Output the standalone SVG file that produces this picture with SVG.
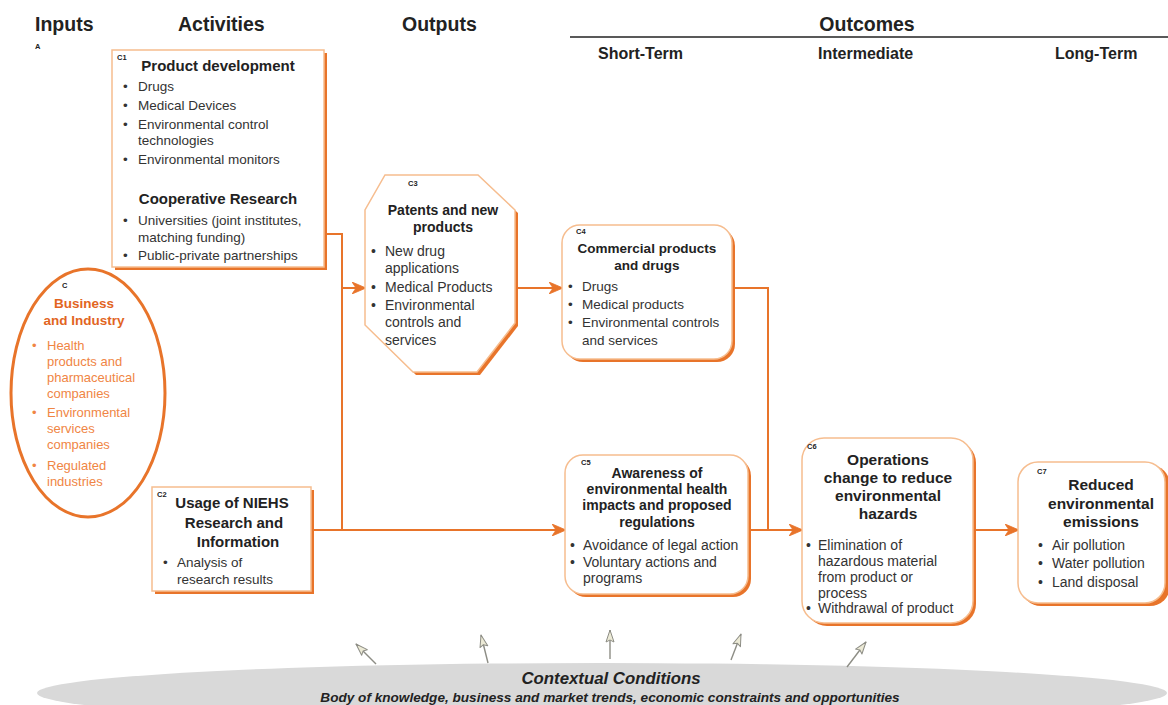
<svg xmlns="http://www.w3.org/2000/svg" width="1168" height="705" viewBox="0 0 1168 705">
<defs>
<marker id="ao" viewBox="0 0 14 12" refX="13" refY="6" markerWidth="14" markerHeight="12" markerUnits="userSpaceOnUse" orient="auto">
<path d="M0,0 L14,6 L0,12 L4,6 Z" fill="#e8742a" stroke="#e8742a" stroke-width="0.8" stroke-linejoin="round"/>
</marker>
<marker id="ag" viewBox="0 0 14 10" refX="13" refY="5" markerWidth="14" markerHeight="10" markerUnits="userSpaceOnUse" orient="auto">
<path d="M13,5 L1,1 L3,5 L1,9 Z" fill="#ecead6" stroke="#8d8d85" stroke-width="1" stroke-linejoin="round"/>
</marker>
<style>
text{font-family:"Liberation Sans",Arial,sans-serif;fill:#222}
.h{font-size:19.5px;font-weight:bold}
.s{font-size:16px;font-weight:bold}
.l{font-size:7.5px;font-weight:bold}
.t{font-size:15px;font-weight:bold;text-anchor:middle}
.t2{font-size:13.5px;font-weight:bold;text-anchor:middle}
.t3{font-size:14px;font-weight:bold;text-anchor:middle}
.b{font-size:13.5px;fill:#333}
.b4{font-size:14px;fill:#333}
.ob{font-size:13.5px;font-weight:bold;fill:#e2651f;text-anchor:middle}
.oc{font-size:13px;fill:#f08544}
.sh{fill:#e8742a}
.bx{fill:#fff;stroke:#f6bd8f;stroke-width:1.5}
.cn{fill:none;stroke:#e8742a;stroke-width:2}
.gc{fill:none;stroke:#8d8d85;stroke-width:1.4}
.ci{font-size:16.8px;font-weight:bold;font-style:italic;text-anchor:middle}
.ci2{font-size:13.6px;font-weight:bold;font-style:italic;text-anchor:middle}
</style>
</defs>

<g id="headers">
<text class="h" x="35" y="31">Inputs</text>
<text class="l" x="35" y="49">A</text>
<text class="h" x="178" y="31">Activities</text>
<text class="h" x="402" y="31">Outputs</text>
<text class="h" x="867" y="31" text-anchor="middle">Outcomes</text>
<line x1="570" y1="37" x2="1168" y2="37" stroke="#222" stroke-width="1.5"/>
<text class="s" x="598" y="59">Short-Term</text>
<text class="s" x="818" y="59">Intermediate</text>
<text class="s" x="1055" y="59">Long-Term</text>
</g>

<g id="context">
<ellipse cx="602" cy="693" rx="565" ry="30" fill="#d9d9d9"/>
<text class="ci" x="611" y="684">Contextual Conditions</text>
<text class="ci2" x="610" y="702">Body of knowledge, business and market trends, economic constraints and opportunities</text>
</g>

<g id="connectors">
<polyline class="cn" points="325,234 342,234 342,530"/>
<line class="cn" x1="342" y1="288" x2="365" y2="288" marker-end="url(#ao)"/>
<line class="cn" x1="313" y1="530" x2="565" y2="530" marker-end="url(#ao)"/>
<line class="cn" x1="515" y1="288" x2="562" y2="288" marker-end="url(#ao)"/>
<polyline class="cn" points="733,288 768,288 768,530"/>
<line class="cn" x1="750" y1="530" x2="802" y2="530" marker-end="url(#ao)"/>
<line class="cn" x1="975" y1="530" x2="1018" y2="530" marker-end="url(#ao)"/>
<line class="gc" x1="376" y1="664" x2="356" y2="644" marker-end="url(#ag)"/>
<line class="gc" x1="488" y1="663" x2="481" y2="635" marker-end="url(#ag)"/>
<line class="gc" x1="610" y1="659" x2="610" y2="630" marker-end="url(#ag)"/>
<line class="gc" x1="731" y1="660" x2="741" y2="634" marker-end="url(#ag)"/>
<line class="gc" x1="847" y1="667" x2="866" y2="642" marker-end="url(#ag)"/>
</g>

<g id="C">
<ellipse cx="88" cy="393" rx="77" ry="124" fill="#fff" stroke="#e8742a" stroke-width="3"/>
<text class="l" x="62" y="288">C</text>
<text class="ob" x="84" y="308">Business</text>
<text class="ob" x="84" y="325">and Industry</text>
<text class="oc" x="32" y="350">•</text><text class="oc" x="47" y="350">Health</text>
<text class="oc" x="47" y="366">products and</text>
<text class="oc" x="47" y="382">pharmaceutical</text>
<text class="oc" x="47" y="398">companies</text>
<text class="oc" x="32" y="417">•</text><text class="oc" x="47" y="417">Environmental</text>
<text class="oc" x="47" y="433">services</text>
<text class="oc" x="47" y="449">companies</text>
<text class="oc" x="32" y="470">•</text><text class="oc" x="47" y="470">Regulated</text>
<text class="oc" x="47" y="486">industries</text>
</g>

<g id="C1">
<rect class="sh" x="115" y="53" width="212" height="217"/>
<rect class="bx" x="112" y="50" width="212" height="217"/>
<text class="l" x="117" y="60">C1</text>
<text class="t" x="218" y="71">Product development</text>
<text class="b" x="123" y="91">•</text><text class="b" x="138" y="91">Drugs</text>
<text class="b" x="123" y="110">•</text><text class="b" x="138" y="110">Medical Devices</text>
<text class="b" x="123" y="129">•</text><text class="b" x="138" y="129">Environmental control</text>
<text class="b" x="138" y="145">technologies</text>
<text class="b" x="123" y="164">•</text><text class="b" x="138" y="164">Environmental monitors</text>
<text class="t" x="218" y="204">Cooperative Research</text>
<text class="b" x="123" y="225">•</text><text class="b" x="138" y="225">Universities (joint institutes,</text>
<text class="b" x="138" y="242">matching funding)</text>
<text class="b" x="123" y="260">•</text><text class="b" x="138" y="260">Public-private partnerships</text>
</g>

<g id="C2">
<rect class="sh" x="155" y="490" width="159" height="104"/>
<rect class="bx" x="152" y="487" width="159" height="104"/>
<text class="l" x="157" y="497">C2</text>
<text class="t" x="232" y="508">Usage of NIEHS</text>
<text class="t" x="234" y="528">Research and</text>
<text class="t" x="238" y="547">Information</text>
<text class="b" x="163" y="567">•</text><text class="b" x="177" y="567">Analysis of</text>
<text class="b" x="177" y="584">research results</text>
</g>

<g id="C3">
<polygon class="sh" points="388,178 481,178 518,213 518,326 480,375 416,375 368,328 368,213"/>
<polygon class="bx" points="385,175 478,175 515,210 515,323 477,372 413,372 365,325 365,210"/>
<text class="l" x="408" y="186">C3</text>
<text class="t3" x="443" y="215">Patents and new</text>
<text class="t3" x="443" y="232">products</text>
<text class="b4" x="371" y="256">•</text><text class="b4" x="385" y="256">New drug</text>
<text class="b4" x="385" y="273">applications</text>
<text class="b4" x="371" y="292">•</text><text class="b4" x="385" y="292">Medical Products</text>
<text class="b4" x="371" y="310">•</text><text class="b4" x="385" y="310">Environmental</text>
<text class="b4" x="385" y="327">controls and</text>
<text class="b4" x="385" y="345">services</text>
</g>

<g id="C4">
<rect class="sh" x="565" y="228" width="170" height="134" rx="18"/>
<rect class="bx" x="562" y="225" width="170" height="134" rx="18"/>
<text class="l" x="576" y="234">C4</text>
<text class="t2" x="647" y="253">Commercial products</text>
<text class="t2" x="647" y="270">and drugs</text>
<text class="b" x="568" y="291">•</text><text class="b" x="582" y="291">Drugs</text>
<text class="b" x="568" y="309">•</text><text class="b" x="582" y="309">Medical products</text>
<text class="b" x="568" y="327">•</text><text class="b" x="582" y="327">Environmental controls</text>
<text class="b" x="582" y="345">and services</text>
</g>

<g id="C5">
<rect class="sh" x="568" y="458" width="183" height="139" rx="18"/>
<rect class="bx" x="565" y="455" width="183" height="139" rx="18"/>
<text class="l" x="581" y="465">C5</text>
<text class="t3" x="657" y="478">Awareness of</text>
<text class="t3" x="657" y="494">environmental health</text>
<text class="t3" x="657" y="510">impacts and proposed</text>
<text class="t3" x="657" y="527">regulations</text>
<text class="b4" x="570" y="550">•</text><text class="b4" x="583" y="550">Avoidance of legal action</text>
<text class="b4" x="570" y="567">•</text><text class="b4" x="583" y="567">Voluntary actions and</text>
<text class="b4" x="583" y="583">programs</text>
</g>

<g id="C6">
<rect class="sh" x="805" y="441" width="171" height="185" rx="22"/>
<rect class="bx" x="802" y="438" width="171" height="185" rx="22"/>
<text class="l" x="807" y="449">C6</text>
<text class="t" x="888" y="465" style="font-size:15.5px">Operations</text>
<text class="t" x="888" y="483" style="font-size:15.5px">change to reduce</text>
<text class="t" x="888" y="501" style="font-size:15.5px">environmental</text>
<text class="t" x="888" y="519" style="font-size:15.5px">hazards</text>
<text class="b4" x="806" y="550">•</text><text class="b4" x="818" y="550">Elimination of</text>
<text class="b4" x="818" y="566">hazardous material</text>
<text class="b4" x="818" y="582">from product or</text>
<text class="b4" x="818" y="598">process</text>
<text class="b4" x="806" y="613">•</text><text class="b4" x="818" y="613">Withdrawal of product</text>
</g>

<g id="C7">
<rect class="sh" x="1021" y="465" width="149" height="141" rx="20"/>
<rect class="bx" x="1018" y="462" width="147" height="141" rx="20"/>
<text class="l" x="1037" y="474">C7</text>
<text class="t" x="1101" y="490" style="font-size:15.5px">Reduced</text>
<text class="t" x="1101" y="509" style="font-size:15.5px">environmental</text>
<text class="t" x="1101" y="527" style="font-size:15.5px">emissions</text>
<text class="b4" x="1038" y="550">•</text><text class="b4" x="1052" y="550">Air pollution</text>
<text class="b4" x="1038" y="568">•</text><text class="b4" x="1052" y="568">Water pollution</text>
<text class="b4" x="1038" y="587">•</text><text class="b4" x="1052" y="587">Land disposal</text>
</g>
</svg>
